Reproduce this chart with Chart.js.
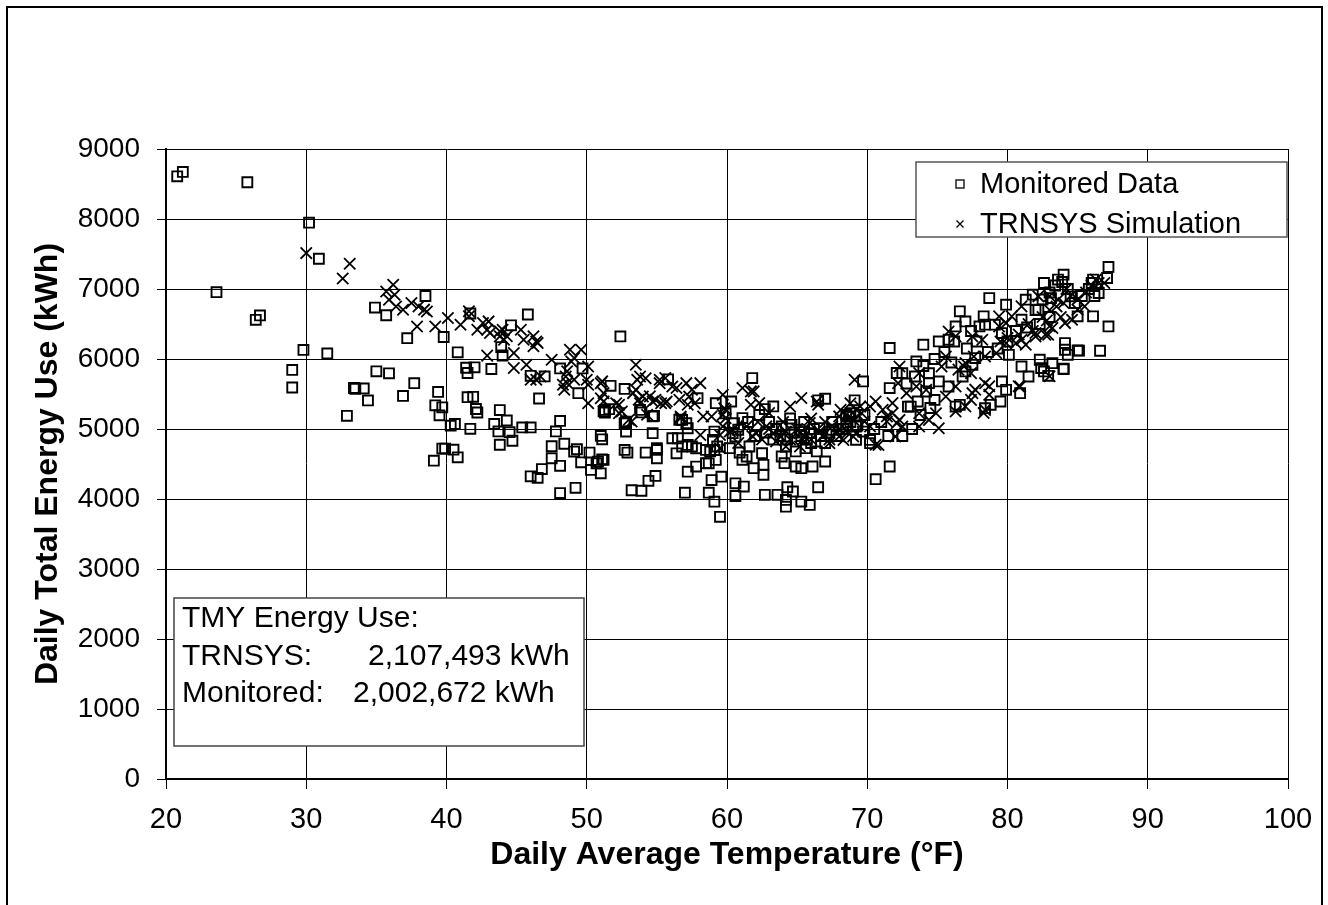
<!DOCTYPE html>
<html>
<head>
<meta charset="utf-8">
<script src="https://cdn.jsdelivr.net/npm/chart.js@4.4.1/dist/chart.umd.min.js"></script>
<style>
  html, body { margin: 0; padding: 0; background: #fff; }
  #wrap { width: 1328px; height: 905px; }
</style>
</head>
<body>
<div id="wrap"><canvas id="c" width="1328" height="905"></canvas></div>
<script>
// ---------- data ----------
const xTickValues = [20, 30, 40, 50, 60, 70, 80, 90, 100];
const yTickValues = [0, 1000, 2000, 3000, 4000, 5000, 6000, 7000, 8000, 9000];
const xTitle = 'Daily Average Temperature (°F)';
const yTitle = 'Daily Total Energy Use (kWh)';
const seriesNames = ['Monitored Data', 'TRNSYS Simulation'];
const noteLines = ['TMY Energy Use:', 'TRNSYS:', '2,107,493 kWh', 'Monitored:', '2,002,672 kWh'];

const monitoredTemp = [
20.8,21.2,25.8,23.6,26.4,26.7,30.2,30.9,29.8,31.5,29.0,29.0,32.9,33.5,33.4,34.1,34.4,34.9,35.7,35.0,
35.9,37.2,37.7,36.9,38.5,39.8,39.4,39.2,39.7,39.5,39.1,39.7,39.9,40.3,40.6,40.5,40.8,40.8,41.4,41.5,
42.0,43.2,41.7,45.8,44.6,43.9,44.0,41.5,41.9,42.1,42.2,43.8,44.3,43.4,43.7,41.7,44.5,45.4,46.0,46.6,
48.1,47.8,43.8,44.7,47.5,48.4,47.5,48.1,46.8,46.0,46.5,48.1,49.2,46.0,47.0,48.1,49.4,49.7,52.4,51.7,
52.7,51.0,51.1,51.3,52.7,52.8,54.7,56.1,55.0,54.2,52.9,52.7,49.3,49.1,50.2,50.7,50.3,51.0,50.8,51.1,
49.6,53.2,53.9,54.4,54.9,55.0,55.0,53.8,54.8,52.8,51.3,51.6,57.1,57.2,56.5,56.4,57.2,57.8,57.8,57.2,
57.0,58.5,58.7,58.9,58.7,59.1,59.5,59.6,59.2,59.1,59.0,59.1,59.2,60.3,59.9,60.5,60.6,60.6,55.8,57.9,
56.8,61.8,71.6,72.1,71.6,69.7,67.0,66.5,69.1,63.3,62.7,56.8,57.5,58.8,60.6,60.2,60.9,61.6,61.1,61.4,
62.5,62.6,62.6,61.9,63.9,64.1,64.9,65.3,66.1,67.0,66.4,65.6,64.9,64.2,63.9,64.6,65.2,65.9,66.6,67.5,
68.5,69.2,70.2,68.7,66.5,64.3,64.7,64.2,65.3,65.9,64.2,63.6,62.7,61.2,58.5,51.2,71.6,70.6,51.2,52.8,
53.9,54.7,56.6,59.3,60.4,60.8,61.1,
87.2,87.1,86.1,86.0,86.5,84.0,83.6,82.6,81.8,81.3,79.9,78.7,76.6,77.0,78.3,79.1,79.6,81.0,82.2,83.1,
84.5,85.0,86.1,87.2,78.4,78.0,76.3,75.8,75.1,74.0,84.1,84.1,84.3,85.0,86.6,80.1,81.0,81.5,82.3,82.6,
83.2,84.0,82.9,79.6,79.9,80.9,79.5,78.8,78.4,77.7,77.5,77.0,76.8,75.8,75.1,74.4,74.4,73.5,72.5,74.2,
74.8,72.9,73.1,73.6,76.3,76.6,68.8,69.2,69.7,70.2,85.1,84.0,82.4,
82.0,82.5,83.0,83.4,83.9,84.3,84.8,85.3,85.8,86.2,83.0,82.3,81.4,80.6,80.0,79.3,78.6,77.8,77.1,76.2,
75.5,74.8,74.0,73.4,72.8,76.0,77.4,
62.0,62.8,63.3,63.8,64.3,64.8,65.3,65.7,66.2,66.7,67.3,67.8,68.3,68.8,69.3,69.8,66.0,67.0,61.5,62.3,
63.0,63.5,64.5,65.5,67.5,68.5,70.5,71.0,71.5,72.5,73.2,73.8,74.5
];
const monitoredKWh = [
8610,8672,8525,6955,6559,6622,7948,7432,6130,6080,5844,5593,5188,5575,5586,5580,5408,6735,6625,5824,
5795,6298,5655,5472,6900,6314,5530,5338,5310,5196,4548,4720,4720,5048,5072,4705,4596,6095,5875,5800,
5881,5857,6650,6636,6481,6171,6050,5455,5460,5286,5236,5270,5122,5072,4965,5003,4955,5022,5022,5436,
5115,4965,4775,4832,4755,4789,4582,4474,4427,4324,4303,4084,4160,5760,5751,5866,5512,5865,6323,5617,
5573,4901,4853,5273,5082,4963,4940,4868,4725,4663,4663,4701,4711,4677,4663,4510,4415,4367,4534,4567,
4524,4125,4118,4260,4330,4582,4701,5273,5187,5106,5235,5283,5082,5011,4868,4653,4773,4725,4463,4391,
4090,4701,4510,4271,4090,3962,3745,4319,4558,4701,4844,4963,5369,5393,5225,5082,4224,4043,5710,5440,
5130,5728,6157,5800,5585,5680,5432,5409,5409,5323,5284,4750,4750,4679,4893,4726,4664,4750,4559,4607,
4655,4488,4345,4440,4607,4512,4464,4440,4464,4536,4679,4726,4679,4750,5036,5060,4989,4941,5013,4989,
5036,4846,4798,5180,4168,4168,4107,3987,3963,3915,3891,4060,4060,4178,4512,4560,4464,4283,5251,5084,
5237,5180,5132,4750,4941,4989,5156,
7315,7157,7134,7086,6943,7205,7134,7086,6919,6847,6776,6871,6681,6537,6609,6490,6370,6561,6704,6871,
6895,6609,6609,6466,6490,6466,6466,6275,6251,6204,6227,6132,6060,6122,6118,6060,5893,5750,5989,5822,
5941,5855,5760,5679,5559,5512,5393,5345,5297,6013,5917,5822,5750,5607,5679,5655,5798,5965,5798,5536,
5416,5321,5321,5393,5321,5345,5226,5035,4963,4844,6119,5862,5871,
6700,6850,6950,7050,7100,7000,6800,6900,7000,6900,6600,6500,6450,6400,6250,6150,6100,6250,6150,6250,
6100,6000,5900,5750,5650,5950,6400,
4900,4950,4850,4900,4850,4950,4900,4850,5000,4900,4950,4900,5000,5100,5050,5200,4800,4800,5100,5200,
5100,5000,5150,5100,5100,5200,5000,5100,4900,4900,5000,5200,5300
];

const simTemp = [
30.0,33.1,32.6,35.7,36.2,35.9,36.4,36.9,37.5,38.0,38.6,37.9,39.2,36.3,38.4,40.1,41.0,41.6,41.6,42.2,
42.6,42.9,43.1,43.8,44.3,44.1,45.3,45.5,46.2,46.5,46.2,44.8,42.9,44.8,45.7,46.0,46.7,47.5,48.8,49.1,
48.6,48.6,48.4,49.1,43.0,44.0,43.8,46.4,46.4,48.9,49.6,50.1,48.5,48.3,50.0,50.1,50.1,51.0,51.2,51.0,
52.1,52.5,53.2,53.5,53.8,54.2,53.5,54.0,53.8,54.7,55.3,55.7,55.2,56.1,57.1,58.1,57.3,57.7,56.7,58.3,
58.9,59.7,59.8,59.9,60.4,59.5,58.1,59.5,
53.6,55.2,55.6,56.4,57.5,53.3,53.7,54.5,54.9,55.6,56.6,57.2,52.3,52.3,53.0,54.3,51.1,51.2,56.7,59.7,
59.9,59.7,60.2,61.1,61.7,61.9,61.7,62.3,63.0,64.5,65.3,66.5,66.4,61.4,62.1,62.8,63.3,64.2,65.2,65.9,
66.6,67.5,68.0,68.5,69.2,69.6,70.6,71.1,71.8,72.1,71.4,70.2,69.0,68.0,67.3,70.6,69.2,69.1,65.2,64.2,
63.5,65.4,
68.1,68.8,69.5,68.5,68.3,69.0,69.8,70.8,70.2,71.8,71.4,72.3,72.5,72.0,72.8,73.5,74.2,73.7,73.7,74.4,
75.1,74.9,75.6,75.3,76.3,76.3,77.0,77.4,77.5,78.4,78.4,78.7,77.4,76.9,77.6,78.4,79.2,79.9,80.6,81.3,
80.9,82.0,82.9,83.2,84.1,84.6,85.0,85.5,86.9,86.3,83.6,82.2,81.0,80.3,79.4,78.2,77.5,76.3,75.6,73.7,
72.3,72.2,79.4,79.9,75.8,
86.5,83.0,82.7,82.0,83.0,81.0,80.8,78.7,77.7,78.3,77.0,76.5,
81.5,82.5,83.0,83.5,84.0,84.5,85.0,83.8,82.8,81.8,80.8,80.0,79.5,83.0,84.2,85.6,86.0,
62.5,63.0,63.8,64.5,65.0,65.5,66.0,66.8,67.3,68.0,68.6,61.8,62.2,64.0,66.0,67.0,60.8
];
const simKWh = [
7513,7361,7151,6965,7060,6846,6750,6703,6799,6751,6679,6464,6464,6919,6705,6586,6490,6610,6681,6419,
6514,6419,6371,6395,6324,6276,6419,6276,6324,6229,6181,6086,6048,5871,5919,5705,5752,5990,6133,6014,
5824,5657,5562,5705,6537,6418,6323,6251,5703,5965,6132,5893,5750,5631,5703,5631,5369,5655,5512,5440,
5369,5249,5106,5917,5750,5726,5559,5464,5369,5392,5369,5392,5655,5607,5655,5655,5464,5369,5178,5178,
5178,5488,5297,5154,4987,4915,4915,4725,
5704,5704,5728,5585,5561,5513,5418,5466,5418,5370,5418,5346,5346,5227,5132,5203,5680,5394,5156,5203,
5275,5037,4965,5585,5537,5537,5346,5370,5227,5322,5442,5346,5394,5037,4941,5037,4941,4965,4941,5084,
4965,5037,5180,5203,5275,5227,5394,5275,5370,5084,5180,5322,5132,4893,4798,4774,4941,5704,4750,4750,
4822,4846,
5273,5369,5321,4987,4844,4892,5106,4772,5035,5226,5106,5130,5035,4892,5512,5607,5559,5226,5035,5130,
5011,5226,5464,5893,5607,5249,5321,5416,5512,5655,5273,5488,5798,5893,6036,6036,6084,6227,6227,6203,
5607,6323,6347,6442,6513,6561,6704,6752,7086,7134,6847,6895,6752,6609,6466,6275,6323,6323,6036,5798,
5893,5655,6609,6513,6394,
7086,6467,6348,6372,5753,6276,5610,5610,5562,5229,5943,5848,
6500,6600,6700,6750,6800,6900,6850,6600,6550,6400,6350,6300,6250,6900,7000,6950,7050,
4850,5000,4900,4850,5000,4900,4850,4900,4850,5000,4950,4900,5100,5100,5150,5100,4800
];

// ---------- chart ----------
const FONT = "'Liberation Sans', Arial, Helvetica, sans-serif";
Chart.defaults.font.family = FONT;
Chart.defaults.color = '#000';

const toPoints = (xs, ys) => xs.map((x, i) => ({ x: x, y: ys[i] }));

const decor = {
  id: 'decor',
  beforeDraw(chart) {
    const ctx = chart.ctx;
    ctx.save();
    ctx.fillStyle = '#fff';
    ctx.fillRect(0, 0, chart.width, chart.height);
    ctx.strokeStyle = '#000';
    ctx.lineWidth = 2;
    ctx.strokeRect(7, 7, 1315, 1000);
    ctx.restore();
  },
  afterDraw(chart) {
    const ctx = chart.ctx;
    ctx.save();
    // legend box
    ctx.fillStyle = '#fff';
    ctx.fillRect(916, 162, 371, 75);
    ctx.strokeStyle = '#555';
    ctx.lineWidth = 1.5;
    ctx.strokeRect(916, 162, 371, 75);
    ctx.strokeStyle = '#000';
    ctx.lineWidth = 1.3;
    ctx.strokeRect(956, 180, 8, 8);
    ctx.beginPath();
    ctx.moveTo(956.5, 220.5); ctx.lineTo(963.5, 227.5);
    ctx.moveTo(963.5, 220.5); ctx.lineTo(956.5, 227.5);
    ctx.stroke();
    ctx.fillStyle = '#000';
    ctx.font = '29px ' + FONT;
    ctx.textBaseline = 'alphabetic';
    ctx.textAlign = 'left';
    ctx.fillText(seriesNames[0], 980, 193);
    ctx.fillText(seriesNames[1], 980, 233);
    // TMY note box
    ctx.fillStyle = '#fff';
    ctx.fillRect(174, 598, 410, 148);
    ctx.strokeStyle = '#444';
    ctx.lineWidth = 1.5;
    ctx.strokeRect(174, 598, 410, 148);
    ctx.fillStyle = '#000';
    ctx.font = '30px ' + FONT;
    ctx.fillText(noteLines[0], 182, 627);
    ctx.fillText(noteLines[1], 182, 665);
    ctx.fillText(noteLines[2], 368, 665);
    ctx.fillText(noteLines[3], 182, 702);
    ctx.fillText(noteLines[4], 353, 702);
    ctx.restore();
  }
};

new Chart(document.getElementById('c'), {
  type: 'scatter',
  data: {
    datasets: [
      {
        label: seriesNames[0],
        data: toPoints(monitoredTemp, monitoredKWh),
        pointStyle: 'rect',
        pointRadius: 7,
        pointBorderWidth: 1.9,
        borderColor: '#000',
        backgroundColor: 'rgba(0,0,0,0)'
      },
      {
        label: seriesNames[1],
        data: toPoints(simTemp, simKWh),
        pointStyle: 'crossRot',
        pointRadius: 8,
        pointBorderWidth: 1.8,
        borderColor: '#000',
        backgroundColor: 'rgba(0,0,0,0)'
      }
    ]
  },
  options: {
    responsive: false,
    animation: false,
    devicePixelRatio: 1,
    events: [],
    layout: { padding: { top: 149, right: 40, left: 0, bottom: 0 } },
    plugins: { legend: { display: false }, tooltip: { enabled: false } },
    scales: {
      x: {
        type: 'linear',
        min: 20, max: 100,
        afterBuildTicks: s => { s.ticks = xTickValues.map(v => ({ value: v })); },
        afterFit: s => { s.height = 126; },
        ticks: { font: { size: 29 }, padding: 14, color: '#000', maxRotation: 0,
                 callback: v => String(v) },
        grid: { color: '#000', lineWidth: 1, tickLength: 10, tickColor: '#000' },
        border: { color: '#000', width: 2 },
        title: { display: true, text: xTitle, font: { size: 32, weight: 'bold' },
                 padding: { top: 0, bottom: 31 }, color: '#000' }
      },
      y: {
        type: 'linear',
        min: 0, max: 9000,
        afterBuildTicks: s => { s.ticks = yTickValues.map(v => ({ value: v })); },
        afterFit: s => { s.width = 166; },
        ticks: { font: { size: 28 }, padding: 17, color: '#000',
                 callback: v => String(v) },
        grid: { color: '#000', lineWidth: 1, tickLength: 9, tickColor: '#000' },
        border: { color: '#000', width: 2 },
        title: { display: true, text: yTitle, font: { size: 32, weight: 'bold' },
                 padding: { top: 29, bottom: 0 }, color: '#000' }
      }
    }
  },
  plugins: [decor]
});
</script>
</body>
</html>
